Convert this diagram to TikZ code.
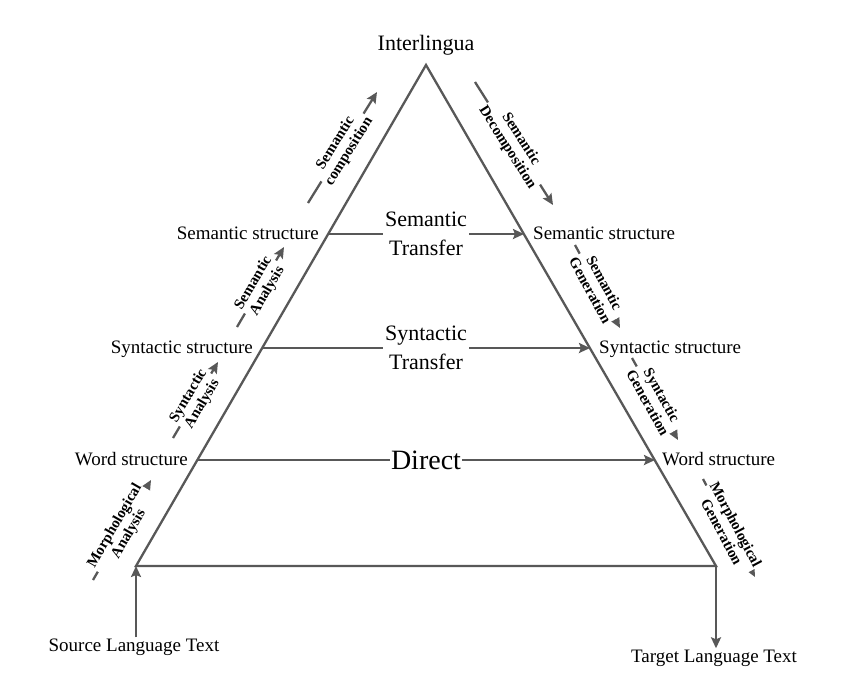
\documentclass[tikz,border=0pt]{standalone}
\usepackage{fontspec}
\setmainfont{Liberation Serif}
\usetikzlibrary{arrows.meta,positioning}
\definecolor{mtgray}{RGB}{88,88,88}

\begin{document}
\begin{tikzpicture}[x=1pt, y=-1pt, >={Stealth[length=11pt,width=10pt,inset=2pt]},
  side/.style={mtgray, line width=2.3pt},
  flow/.style={->, mtgray, line width=2.3pt},
  struct/.style={font=\fontsize{19}{22}\selectfont, inner sep=0pt, text height=11pt, text depth=0pt},
  transfer/.style={font=\fontsize{22}{29}\selectfont, align=center, inner sep=2pt},
  steplabel/.style={font=\fontsize{15}{16}\selectfont\bfseries, text=black, align=center, sloped, fill=white, inner sep=1pt}]
  \useasboundingbox (0,0) rectangle (850,680);
  % pyramid
  \coordinate (apex) at (426,65);
  \coordinate (bl) at (136,566);
  \coordinate (br) at (716,566);
  \coordinate (semL) at (328,234);  \coordinate (semR) at (524,234);
  \coordinate (synL) at (262,348);  \coordinate (synR) at (590,348);
  \coordinate (wrdL) at (197,460);  \coordinate (wrdR) at (655,460);
  \draw[side, line join=miter] (bl) -- (apex) -- (br) -- cycle;
  \node[transfer] (inter) at (426,45) {Interlingua};
  % structure levels
  \node[struct, anchor=east] (lsem) at ([xshift=-9pt]semL) {Semantic structure};
  \node[struct, anchor=east] (lsyn) at ([xshift=-9pt]synL) {Syntactic structure};
  \node[struct, anchor=east] (lwrd) at ([xshift=-9pt]wrdL) {Word structure};
  \node[struct, anchor=west] (rsem) at ([xshift=9pt]semR) {Semantic structure};
  \node[struct, anchor=west] (rsyn) at ([xshift=9pt]synR) {Syntactic structure};
  \node[struct, anchor=west] (rwrd) at ([xshift=7pt]wrdR) {Word structure};
  % transfer paths
  \node[transfer] (semT) at (426,234) {Semantic\\Transfer};
  \node[transfer] (synT) at (426,348) {Syntactic\\Transfer};
  \node[font=\fontsize{28}{30}\selectfont, inner sep=1pt] (direct) at (426,460) {Direct};
  \draw[side] (semL) -- (semT);  \draw[flow] (semT) -- (semR);
  \draw[side] (synL) -- (synT);  \draw[flow] (synT) -- (synR);
  \draw[side] (wrdL) -- (direct);  \draw[flow] (direct) -- (wrdR);
  % input and output
  \node[struct, inner sep=3pt] (src) at (134,646) {Source Language Text};
  \node[struct, inner sep=3pt] (tgt) at (714,657) {Target Language Text};
  \draw[flow] (src.north -| bl) -- (bl);
  \draw[flow] (br) -- (tgt.north -| br);
  % analysis (left)
  \coordinate (ma0) at (93,580);   \coordinate (ma1) at (151,480);
  \coordinate (sa0) at (173,438);  \coordinate (sa1) at (218,362);
  \coordinate (se0) at (237,327);  \coordinate (se1) at (284,247);
  \coordinate (sc0) at (308,203);  \coordinate (sc1) at (377,92);
  \draw[flow] (ma0) -- (ma1) node[steplabel, midway] (malab) {Morphological\\Analysis};
  \draw[flow] (sa0) -- (sa1) node[steplabel, midway] (salab) {Syntactic\\Analysis};
  \draw[flow] (se0) -- (se1) node[steplabel, midway] (selab) {Semantic\\Analysis};
  \draw[flow] (sc0) -- (sc1) node[steplabel, midway] (sclab) {Semantic\\composition};
  % generation (right)
  \coordinate (sd0) at (475,82);   \coordinate (sd1) at (553,205);
  \coordinate (sg0) at (575,245);  \coordinate (sg1) at (620,328);
  \coordinate (yg0) at (632,358);  \coordinate (yg1) at (678,440);
  \coordinate (mg0) at (703,479);  \coordinate (mg1) at (755,577);
  \draw[flow] (sd0) -- (sd1) node[steplabel, midway] (sdlab) {Semantic\\Decomposition};
  \draw[flow] (sg0) -- (sg1) node[steplabel, midway] (sglab) {Semantic\\Generation};
  \draw[flow] (yg0) -- (yg1) node[steplabel, midway] (yglab) {Syntactic\\Generation};
  \draw[flow] (mg0) -- (mg1) node[steplabel, midway] (mglab) {Morphological\\Generation};
\end{tikzpicture}
\end{document}
